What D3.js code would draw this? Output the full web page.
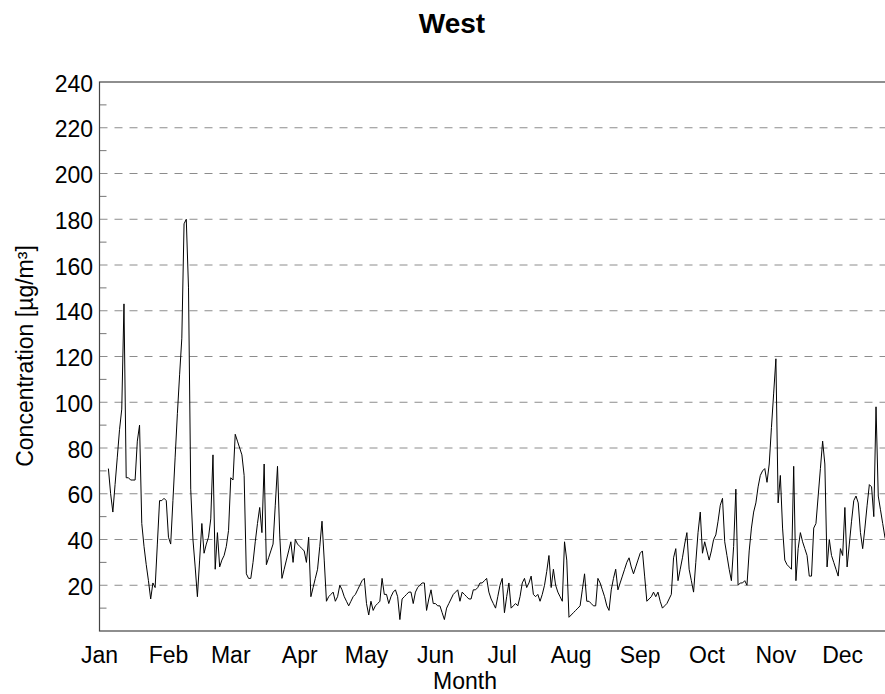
<!DOCTYPE html>
<html>
<head>
<meta charset="utf-8">
<script src="https://cdn.jsdelivr.net/npm/d3@7"></script>
<style>
  body { margin: 0; overflow: hidden; background: #fff; }
  text { font-family: "Liberation Sans", Arial, sans-serif; fill: #000; }
</style>
</head>
<body>
<svg id="chart"></svg>
<script>
// month labels and the day of year each month starts on
var months = ["Jan","Feb","Mar","Apr","May","Jun","Jul","Aug","Sep","Oct","Nov","Dec"];
var monthStart = [0, 31, 59, 90, 120, 151, 181, 212, 243, 273, 304, 334];

var yTicks = [20, 40, 60, 80, 100, 120, 140, 160, 180, 200, 220, 240];
var yMinor = [10, 30, 50, 70, 90, 110, 130, 150, 170, 190, 210, 230];

// daily concentration, first value is day 4 (Jan 5)
var firstDay = 4;
var conc = [
  71,60,52,64,76,88,97,143,67,67,
  66,66,66,83,90,47,37,29,22,14,
  21,19,38,57,57,58,57,41,38,57,
  76,95,112,128,178,180,150,62,40,28,
  15,31,47,34,38,41,49,77,27,43,
  28,31,33,37,44,67,66,86,83,80,
  77,68,25,23,23,30,39,47,54,43,
  73,29,32,35,38,55,72,42,23,27,
  31,35,39,30,40,38,37,36,35,30,
  41,15,19,23,27,37,48,31,13,15,
  16,17,13,15,20,18,15,13,11,13,
  15,16,18,20,22,23,12,7,13,9,
  11,12,13,23,16,16,12,15,17,18,
  15,5,14,15,16,17,17,12,17,19,
  20,21,21,9,14,18,12,12,11,11,
  8,5,10,12,14,16,17,18,13,17,
  16,15,14,14,18,18,19,21,21,22,
  23,17,14,12,10,15,20,23,8,15,
  21,10,11,12,11,15,21,23,19,21,
  24,16,15,16,13,16,20,26,33,19,
  27,20,17,15,13,39,31,6,7,8,
  9,10,11,18,25,13,13,12,11,11,
  23,21,18,15,11,9,18,23,27,18,
  21,24,27,30,32,28,25,28,31,34,
  35,24,13,14,15,17,15,17,13,10,
  11,12,14,16,32,36,22,27,32,38,
  43,27,22,17,30,43,52,34,39,35,
  31,35,40,42,48,55,58,39,33,27,
  22,37,62,20,21,21,22,20,35,45,
  52,56,63,68,70,71,65,73,89,104,
  119,56,68,45,31,29,28,27,72,22,
  36,43,39,36,33,24,24,45,47,59,
  71,83,73,28,40,33,30,27,24,36,
  33,54,28,38,48,57,59,56,43,36,
  45,55,64,63,50,98,59,53,47,41,
  38,36
];

var width = 930,
    height = 694,
    plotLeft = 99.5,
    plotTop = 82,
    plotBottom = 631,
    plotRight = plotLeft + 365 * 2.225;

var svg = d3.select("#chart")
  .attr("width", width)
  .attr("height", height);

var x = d3.scaleLinear()
  .domain([0, 365])
  .range([plotLeft, plotRight]);

var y = d3.scaleLinear()
  .domain([0, 240])
  .range([plotBottom, plotTop]);

svg.append("clipPath").attr("id", "plotClip")
  .append("rect")
  .attr("x", plotLeft).attr("y", plotTop)
  .attr("width", plotRight - plotLeft).attr("height", plotBottom - plotTop);

// dashed grid
svg.append("g")
  .selectAll("line")
  .data(yTicks.filter(function(d) { return d < 240; }))
  .enter().append("line")
  .attr("x1", plotLeft).attr("x2", plotRight)
  .attr("y1", function(d) { return y(d); })
  .attr("y2", function(d) { return y(d); })
  .style("stroke", "#8c8c8c")
  .style("stroke-width", 1)
  .style("stroke-dasharray", "8,7");

// minor ticks inside the left edge
svg.append("g")
  .selectAll("line")
  .data(yMinor)
  .enter().append("line")
  .attr("x1", plotLeft).attr("x2", plotLeft + 7)
  .attr("y1", function(d) { return y(d); })
  .attr("y2", function(d) { return y(d); })
  .style("stroke", "#777")
  .style("stroke-width", 1);

var line = d3.line()
  .x(function(d, i) { return x(firstDay + i); })
  .y(function(d) { return y(d); });

svg.append("path")
  .datum(conc)
  .attr("clip-path", "url(#plotClip)")
  .attr("d", line)
  .style("fill", "none")
  .style("stroke", "#000")
  .style("stroke-width", 1)
  .style("stroke-linejoin", "round");

svg.append("rect")
  .attr("x", plotLeft).attr("y", plotTop)
  .attr("width", plotRight - plotLeft).attr("height", plotBottom - plotTop)
  .style("fill", "none")
  .style("stroke", "#444")
  .style("stroke-width", 1.2);

// y labels
svg.append("g")
  .selectAll("text")
  .data(yTicks)
  .enter().append("text")
  .attr("x", 93)
  .attr("y", function(d) { return y(d); })
  .attr("dy", "0.42em")
  .attr("text-anchor", "end")
  .style("font-size", "23px")
  .text(function(d) { return d; });

// month labels
svg.append("g")
  .selectAll("text")
  .data(months)
  .enter().append("text")
  .attr("x", function(d, i) { return x(monthStart[i]); })
  .attr("y", 663)
  .attr("text-anchor", "middle")
  .style("font-size", "23px")
  .text(function(d) { return d; });

svg.append("text")
  .attr("x", 465)
  .attr("y", 689)
  .attr("text-anchor", "middle")
  .style("font-size", "23px")
  .text("Month");

svg.append("text")
  .attr("transform", "translate(33,356) rotate(-90)")
  .attr("text-anchor", "middle")
  .style("font-size", "23px")
  .text("Concentration [µg/m³]");

svg.append("text")
  .attr("x", 452)
  .attr("y", 33)
  .attr("text-anchor", "middle")
  .style("font-size", "28px")
  .style("font-weight", "bold")
  .text("West");
</script>
</body>
</html>
